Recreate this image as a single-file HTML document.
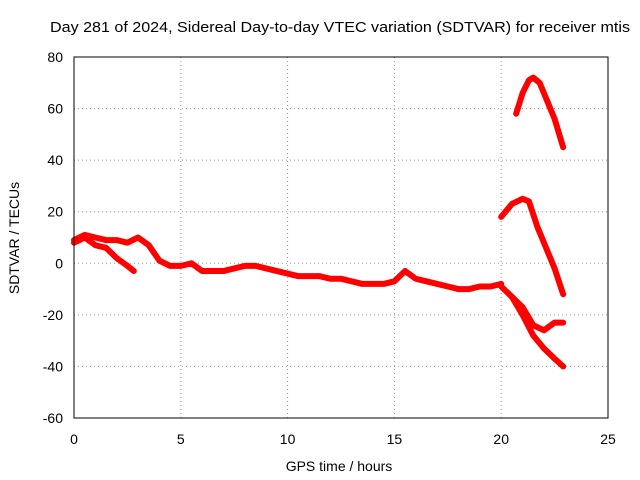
<!DOCTYPE html>
<html><head><meta charset="utf-8"><style>
body{margin:0;background:#fff;}
svg{display:block;font-family:"Liberation Sans",sans-serif;}
</style></head><body>
<svg id="chart" width="640" height="480">
<rect width="640" height="480" fill="#fff"/>
<text x="50" y="32" font-size="15" textLength="580" lengthAdjust="spacingAndGlyphs">Day 281 of 2024, Sidereal Day-to-day VTEC variation (SDTVAR) for receiver mtis</text>
<text x="339" y="471" font-size="14" text-anchor="middle">GPS time / hours</text>
<text transform="translate(19,238) rotate(-90)" font-size="14" text-anchor="middle">SDTVAR / TECUs</text>
<g id="grid"></g><g id="series"></g>
<rect x="74" y="57" width="534" height="361" fill="none" stroke="#000" stroke-width="1"/>
</svg>
<script>
const xTicks=[0,5,10,15,20,25];
const yTicks=[-60,-40,-20,0,20,40,60,80];
const mainT=[0,0.5,1,1.5,2,2.5,3,3.5,4,4.5,5,5.5,6,6.5,7,7.5,8,8.5,9,9.5,10,10.5,11,11.5,12,12.5,13,13.5,14,14.5,15,15.5,16,16.5,17,17.5,18,18.5,19,19.5,20];
const mainV=[9,11,10,9,9,8,10,7,1,-1,-1,0,-3,-3,-3,-2,-1,-1,-2,-3,-4,-5,-5,-5,-6,-6,-7,-8,-8,-8,-7,-3,-6,-7,-8,-9,-10,-10,-9,-9,-8];
const branchT=[0,0.5,1,1.5,2,2.5,2.8];
const branchV=[8,10,7,6,2,-1,-3];
const tailAT=[20,20.5,21,21.5,22,22.5,22.9];
const tailAV=[-9,-13,-17,-24,-26,-23,-23];
const tailBT=[20.5,21,21.5,22,22.5,22.9];
const tailBV=[-13,-20,-28,-33,-37,-40];
const upperT=[20,20.5,21,21.3,21.7,22,22.5,22.9];
const upperV=[18,23,25,24,14,8,-2,-12];
const topT=[20.7,21,21.3,21.5,21.8,22,22.5,22.9];
const topV=[58,66,71,72,70,66,56,45];
const X=t=>74+t*(534/25);
const Y=v=>57+(80-v)*(361/140);
const NS="http://www.w3.org/2000/svg";
const grid=document.getElementById('grid');
function el(n,a,p){const e=document.createElementNS(NS,n);for(const k in a)e.setAttribute(k,a[k]);p.appendChild(e);return e;}
xTicks.forEach(t=>{
  if(t>0&&t<25){const g=el('line',{x1:X(t),x2:X(t),y1:57,y2:418,stroke:'#999','stroke-dasharray':'1,3'},grid);
  
  }
  const tx=el('text',{x:X(t),y:444,'font-size':14,'text-anchor':'middle'},grid);tx.textContent=t;
  
  
});
yTicks.forEach(v=>{
  if(v>-60&&v<80){const g=el('line',{x1:74,x2:608,y1:Y(v),y2:Y(v),stroke:'#999','stroke-dasharray':'1,3'},grid);
  
  }
  const tx=el('text',{x:63,y:Y(v)+5,'font-size':14,'text-anchor':'end'},grid);tx.textContent=v;
  
  
});
const ser=document.getElementById('series');
function draw(ts,vs,name){
  const pts=ts.map((t,i)=>X(t)+','+Y(vs[i])).join(' ');
  const p=el('polyline',{points:pts,fill:'none',stroke:'#f00','stroke-width':6,'stroke-linejoin':'round','stroke-linecap':'round'},ser);
  
  
}
draw(mainT,mainV,'series-main');
draw(branchT,branchV,'series-branch');
draw(tailAT,tailAV,'series-tail-a');
draw(tailBT,tailBV,'series-tail-b');
draw(upperT,upperV,'series-upper');
draw(topT,topV,'series-top');
</script>
</body></html>
